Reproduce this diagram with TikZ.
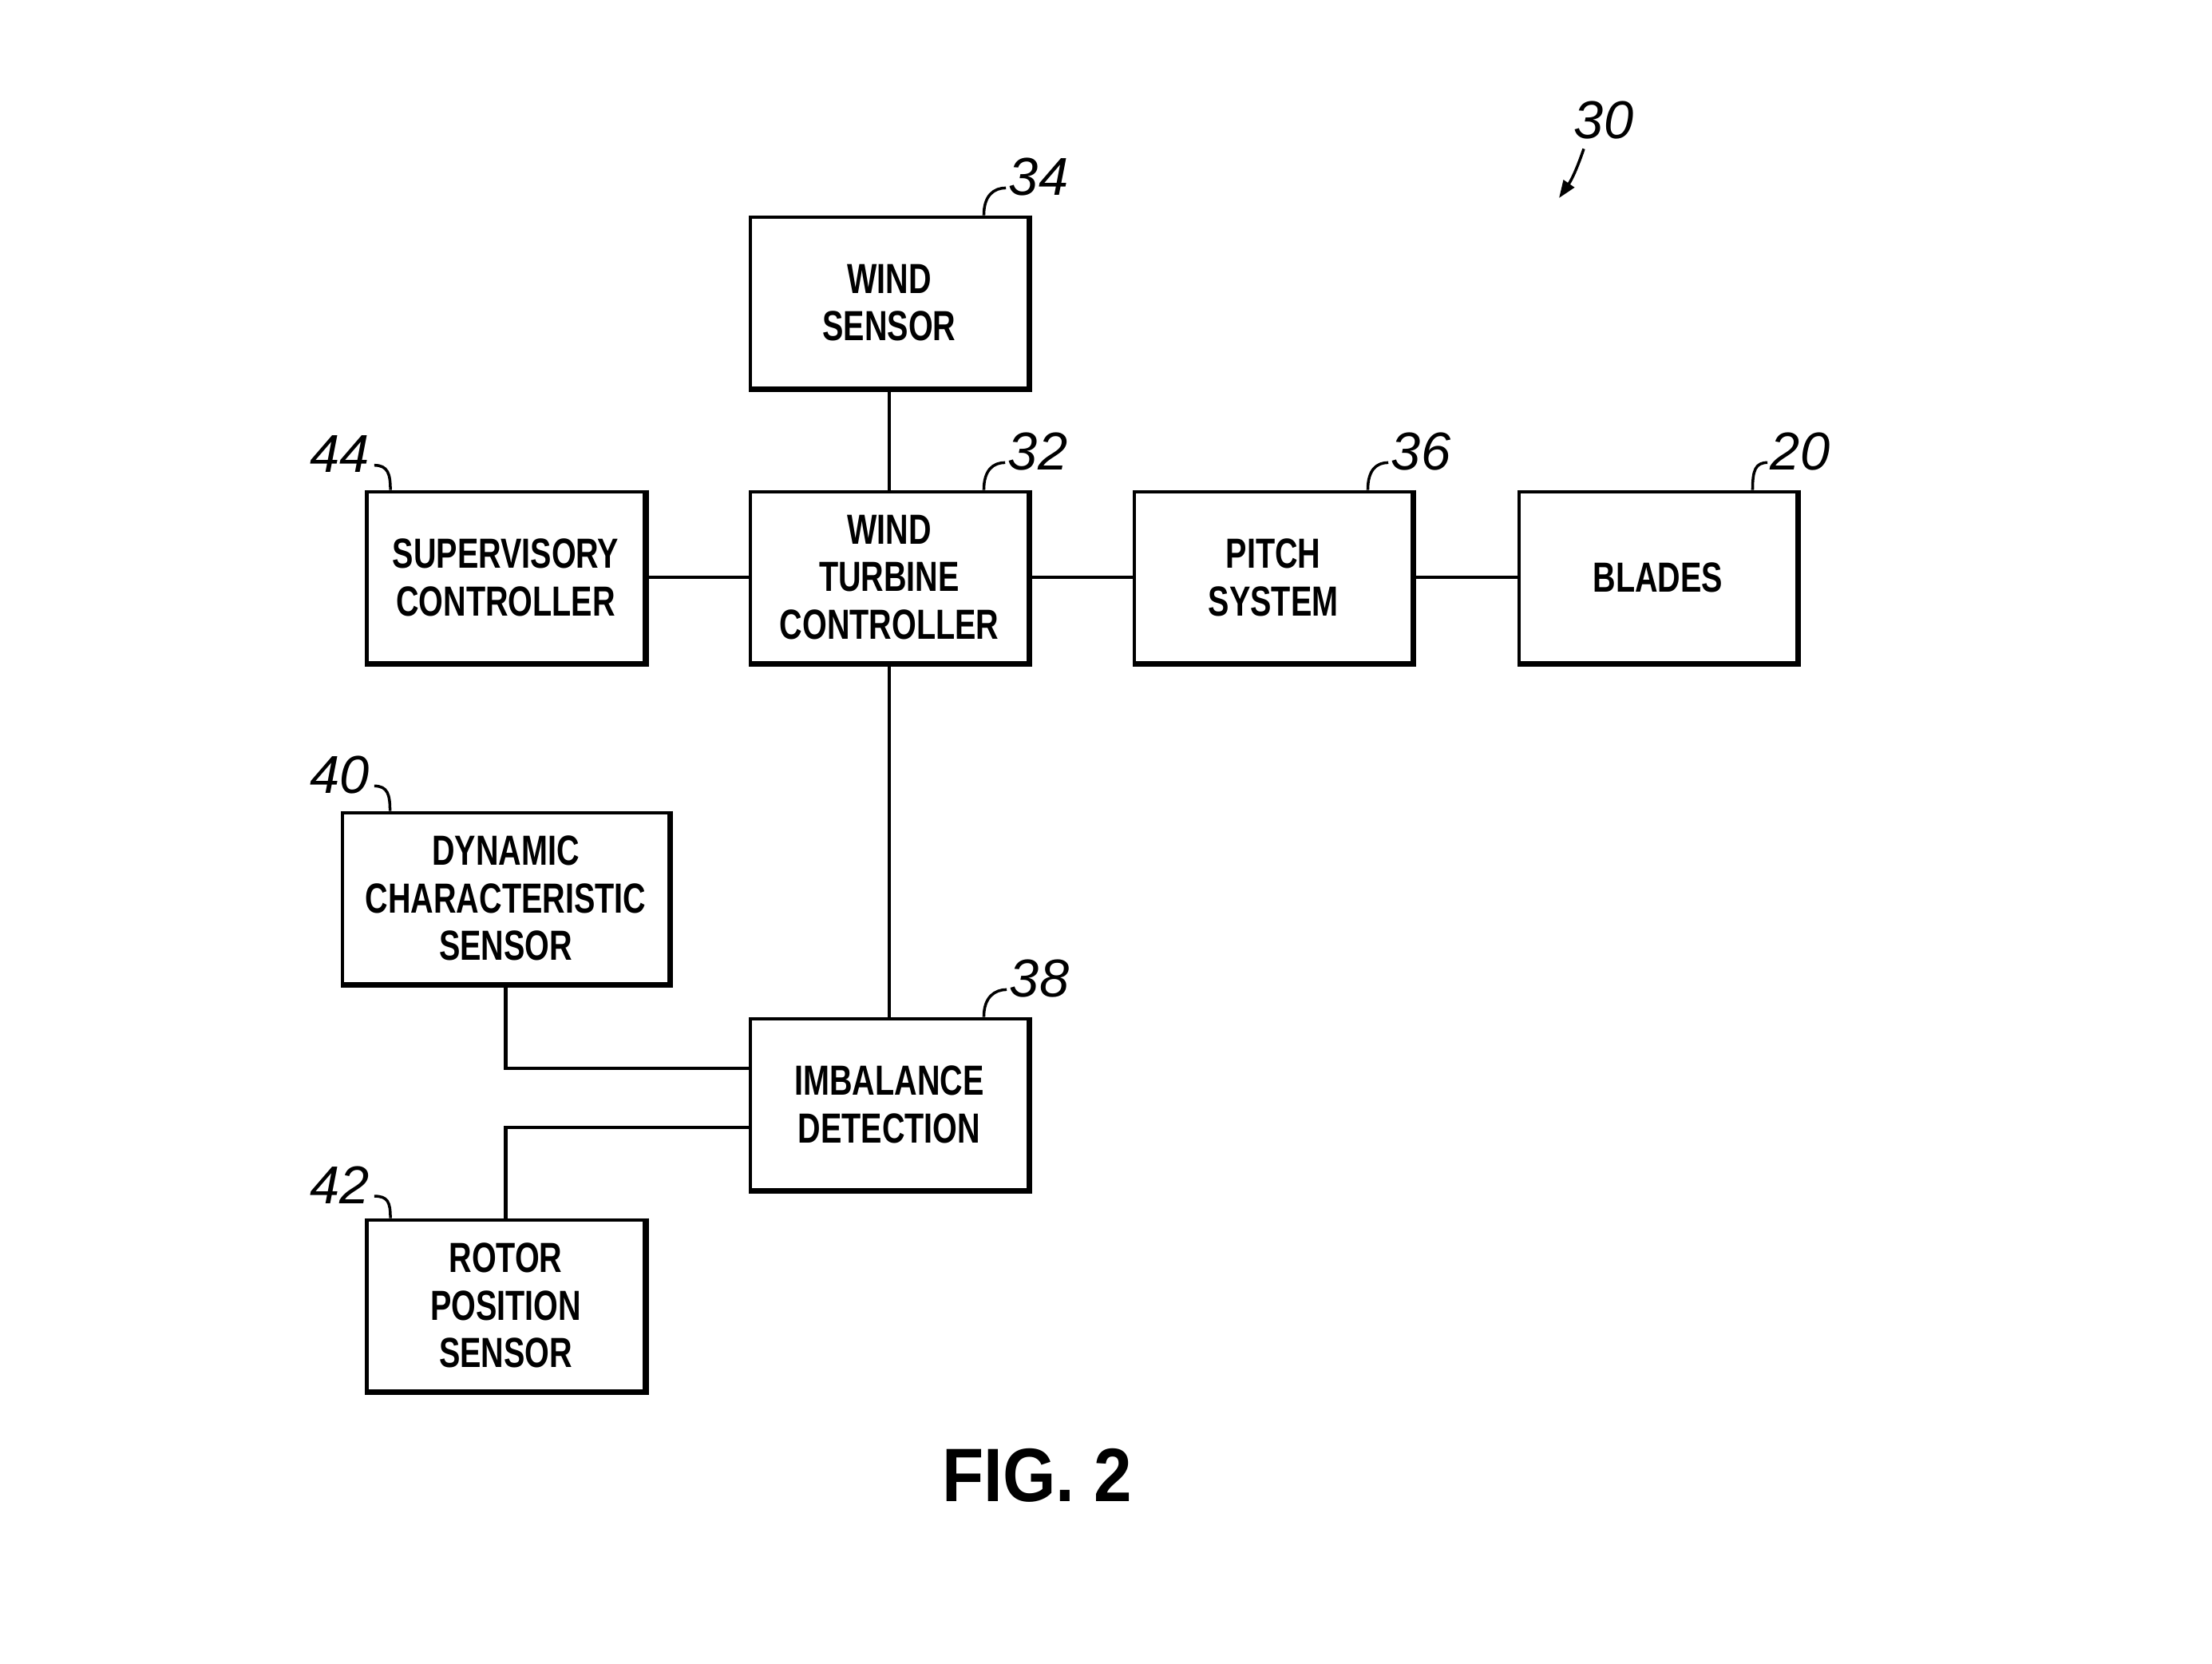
\documentclass[tikz,border=0pt]{standalone}
\usepackage{fontspec}
\setmainfont{Liberation Sans}[FakeStretch=0.75]
\newfontfamily\refnumfont{Liberation Sans}
\newfontfamily\figfont{Liberation Sans}[FakeStretch=0.9]
\usetikzlibrary{arrows.meta}

\tikzset{
  blok/.style={draw, line width=1.4pt, minimum width=3.48cm, minimum height=2.14cm,
    inner sep=0pt, align=center, font=\bfseries\fontsize{15}{17}\selectfont},
  refnum/.style={inner sep=0pt, font=\refnumfont\itshape\fontsize{19}{19}\selectfont},
  lead/.style={line width=1pt},
  wire/.style={line width=1.4pt},
}

\begin{document}
\begin{tikzpicture}
			\useasboundingbox (0,0) rectangle (27.71,-20.83);
			% blocks
			\node[blok] (ws) at (11.14,-3.79) {WIND\\SENSOR};
			\node[blok] (wtc) at (11.14,-7.23) {WIND\\TURBINE\\CONTROLLER};
			\node[blok] (sup) at (6.335,-7.23) {SUPERVISORY\\CONTROLLER};
			\node[blok] (pitch) at (15.95,-7.23) {PITCH\\SYSTEM};
			\node[blok] (blades) at (20.77,-7.23) {BLADES};
			\node[blok,minimum width=4.09cm] (dyn) at (6.335,-11.25) {DYNAMIC\\CHARACTERISTIC\\SENSOR};
			\node[blok] (imb) at (11.14,-13.83) {IMBALANCE\\DETECTION};
			\node[blok] (rotor) at (6.335,-16.35) {ROTOR\\POSITION\\SENSOR};
			\foreach \n in {ws,wtc,sup,pitch,blades,dyn,imb,rotor}
				\draw[line width=0.04cm] ([shift={(0.01,0)}]\n.north east) -- ([shift={(0.01,-0.01)}]\n.south east) -- ([shift={(0,-0.01)}]\n.south west);
			% wires
			\draw[wire] (ws) -- (wtc);
			\draw[wire] (sup) -- (wtc);
			\draw[wire] (wtc) -- (pitch);
			\draw[wire] (pitch) -- (blades);
			\draw[wire] (wtc) -- (imb);
			\draw[wire] (dyn.south) |- ([yshift=0.45cm]imb.west);
			\draw[wire] ([yshift=-0.29cm]imb.west) -| (rotor.north);
			% reference numerals
			\node[refnum] (l30) at (20.09,-1.50) {30};
			\node[refnum] (l34) at (13.01,-2.21) {34};
			\node[refnum] (l32) at (13.00,-5.65) {32};
			\node[refnum] (l36) at (17.80,-5.65) {36};
			\node[refnum] (l20) at (22.55,-5.65) {20};
			\node[refnum] (l44) at (4.26,-5.69) {44};
			\node[refnum] (l40) at (4.26,-9.70) {40};
			\node[refnum] (l38) at (13.02,-12.25) {38};
			\node[refnum] (l42) at (4.26,-14.84) {42};
			\coordinate (a30) at (19.53,-2.48);
			\draw[lead,-{Triangle[length=0.22cm,width=0.16cm]}] ([shift={(-0.25,-0.12)}]l30.south) to[bend left=8] (a30);
			\foreach \n/\b in {l34/ws,l32/wtc,l36/pitch,l20/blades,l38/imb}
				\draw[lead] ([xshift=-0.58cm]\b.north east) .. controls +(0,0.25) and +(-0.15,0) .. ([shift={(-0.03,0.1)}]\n.south west);
			\foreach \n/\b/\d in {l44/sup/0.32,l40/dyn/0.62,l42/rotor/0.32}
				\draw[lead] ([shift={(0.05,0.1)}]\n.south east) .. controls +(0.17,0) and +(0,0.2) .. ([xshift=\d cm]\b.north west);
			\node[font=\figfont\bfseries\fontsize{27}{27}\selectfont] (fig) at (12.99,-18.48) {FIG. 2};
		\end{tikzpicture}
\end{document}
